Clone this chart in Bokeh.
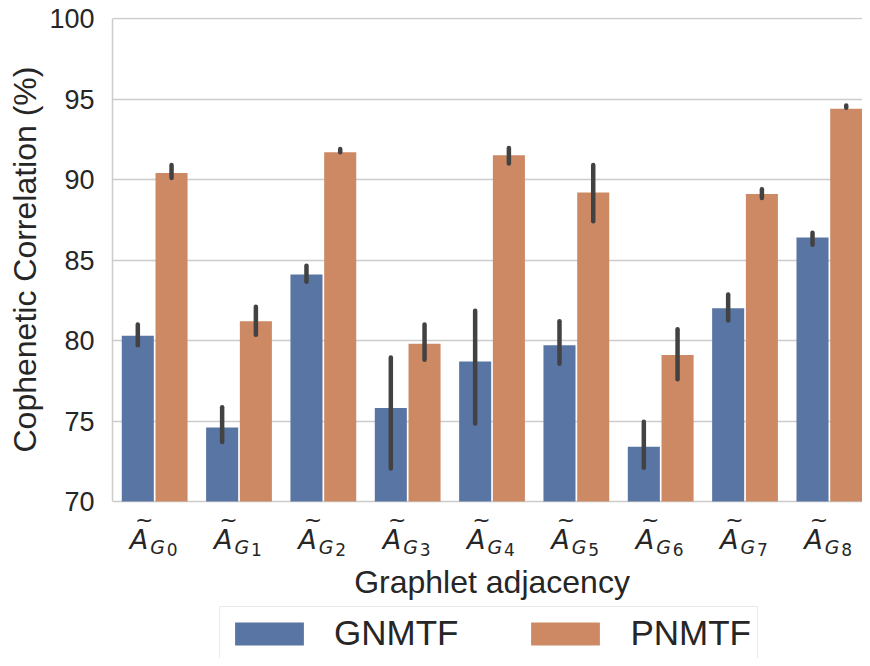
from bokeh.plotting import figure
from bokeh.models import ColumnDataSource, Range1d, LabelSet, Label, Legend, LegendItem, Title
from bokeh.transform import dodge
from bokeh.core.properties import value
from bokeh.embed import file_html
from bokeh.resources import INLINE

# ---- data ----
categories = ["G0", "G1", "G2", "G3", "G4", "G5", "G6", "G7", "G8"]
subscripts = ["0", "1", "2", "3", "4", "5", "6", "7", "8"]
series_names = ["GNMTF", "PNMTF"]
x_label = "Graphlet adjacency"
y_label = "Cophenetic Correlation (%)"

gnmtf_mean = [80.3, 74.6, 84.1, 75.8, 78.7, 79.7, 73.4, 82.0, 86.4]
gnmtf_low = [79.7, 73.7, 83.65, 72.05, 74.85, 78.55, 72.1, 81.25, 85.95]
gnmtf_high = [81.0, 75.85, 84.65, 78.95, 81.85, 81.2, 74.95, 82.85, 86.7]

pnmtf_mean = [90.4, 81.2, 91.7, 79.8, 91.5, 89.2, 79.1, 89.1, 94.4]
pnmtf_low = [90.1, 80.35, 91.7, 78.8, 91.0, 87.4, 77.6, 88.85, 94.45]
pnmtf_high = [90.9, 82.1, 91.9, 81.0, 91.95, 90.9, 80.7, 89.4, 94.6]

y_ticks = [70, 75, 80, 85, 90, 95, 100]
Y_MIN, Y_MAX = 70, 100

# ---- layout (pixels) ----
W, H = 862, 658
TOP = 17
TOP_PAD = 1            # keep the 100 grid line just inside the frame
LEFT = 111             # resulting frame-left (tick labels + title column)
TICK_STANDOFF = 18
YT_STANDOFF = 8
AXIS_PX = 483          # pixel height of the 70..100 span
CAT_PX = 84.45         # pixel width of one category
unit_px = AXIS_PX / (Y_MAX - Y_MIN)
frame_w = W - LEFT
frame_h = H - TOP
y_top = Y_MAX + TOP_PAD / unit_px
y_low = y_top - frame_h / unit_px    # frame extends below the axis for labels/legend
x_end = -0.5 + frame_w / CAT_PX

BLUE = "#5975a4"
ORANGE = "#cc8963"
TEXT = "#262626"
GRID = "#cccccc"
ERR = "#424242"

n = len(categories)
src = ColumnDataSource(dict(
    idx=list(range(n)), cat=categories, sub=subscripts,
    base=[Y_MIN] * n,
    g=gnmtf_mean, g_lo=gnmtf_low, g_hi=gnmtf_high,
    pn=pnmtf_mean, p_lo=pnmtf_low, p_hi=pnmtf_high,
    A=["A"] * n, T=["~"] * n, G=["G"] * n,
))

p = figure(width=W, height=H,
           x_range=Range1d(-0.5, x_end), y_range=Range1d(y_low, y_top),
           x_axis_location=None,
           output_backend="svg", toolbar_location=None,
           min_border=0, min_border_left=0, min_border_top=TOP,
           min_border_right=0, min_border_bottom=0)

p.outline_line_color = None
p.background_fill_color = "white"
p.border_fill_color = "white"
p.xgrid.visible = False
p.ygrid.grid_line_color = GRID
p.ygrid.grid_line_width = 1.5

ax = p.yaxis[0]
ax.ticker = y_ticks
ax.bounds = (Y_MIN, Y_MAX)
ax.axis_line_color = GRID
ax.axis_line_width = 1.5
ax.major_tick_in = 0
ax.major_tick_out = 0
ax.major_tick_line_color = None
ax.minor_tick_line_color = None
ax.major_label_text_font = "Liberation Sans"
ax.major_label_text_font_size = "27px"
ax.major_label_text_color = TEXT
ax.major_label_standoff = TICK_STANDOFF

# y axis title, anchored at the bottom of the 70..100 span
p.add_layout(Title(text=y_label, align="left", offset=H - (TOP + TOP_PAD + AXIS_PX) + 49,
                   standoff=YT_STANDOFF, text_font="Liberation Sans", text_font_size="32px",
                   text_font_style="normal", text_color=TEXT), "left")

b1 = p.vbar(x=dodge("idx", -0.2), top="g", bottom="base", width=0.38,
            source=src, fill_color=BLUE, line_color=None)
b2 = p.vbar(x=dodge("idx", 0.2), top="pn", bottom="base", width=0.38,
            source=src, fill_color=ORANGE, line_color=None)

p.segment(x0=dodge("idx", -0.2), y0="g_lo", x1=dodge("idx", -0.2), y1="g_hi",
          source=src, line_color=ERR, line_width=4.5, line_cap="round")
p.segment(x0=dodge("idx", 0.2), y0="p_lo", x1=dodge("idx", 0.2), y1="p_hi",
          source=src, line_color=ERR, line_width=4.5, line_cap="round")

# math-like tick labels: widetilde{A}_{G_i}
common = dict(x="idx", y="base", source=src, text_color=TEXT,
              text_font=value("DejaVu Sans"), text_baseline="alphabetic")
p.add_layout(LabelSet(text="A", x_offset=-25, y_offset=-47, text_align="left",
                      text_font_size="27px", text_font_style="italic", **common))
p.add_layout(LabelSet(text="T", x_offset=-10.5, y_offset=-25.5, text_align="center",
                      text_font_size="22px", **common))
p.add_layout(LabelSet(text="G", x_offset=-4.5, y_offset=-52, text_align="left",
                      text_font_size="19px", text_font_style="italic", **common))
p.add_layout(LabelSet(text="sub", x_offset=12, y_offset=-54, text_align="left",
                      text_font_size="17px", **common))

# x axis title
p.add_layout(Label(x=(n - 1) / 2, y=Y_MIN, y_offset=-80, text=x_label,
                   text_align="center", text_baseline="alphabetic",
                   text_font="Liberation Sans", text_font_size="32px", text_color=TEXT))

legend = Legend(items=[LegendItem(label=series_names[0], renderers=[b1]),
                       LegendItem(label=series_names[1], renderers=[b2])],
                orientation="horizontal", location=(107, -2),
                glyph_width=86, glyph_height=29, label_standoff=22, spacing=64,
                padding=6, margin=0, label_text_font="Liberation Sans", label_text_font_size="35px",
                label_text_color=TEXT, border_line_color="#d6d6d6", border_line_width=1.5,
                background_fill_color="white", background_fill_alpha=1.0)
p.add_layout(legend, "center")

open("out.html", "w").write(file_html(p, INLINE))
